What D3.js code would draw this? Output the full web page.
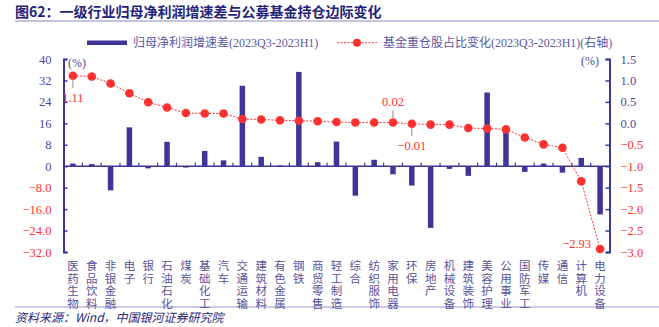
<!DOCTYPE html>
<html>
<head>
<meta charset="utf-8">
<script src="https://cdn.jsdelivr.net/npm/d3@7"></script>
<style>
  body { margin: 0; background: #fff; }
  svg { display: block; }
  text { font-family: "Liberation Serif", "Noto Sans CJK SC", serif; }
  .cjk { font-family: "Noto Sans CJK SC", sans-serif; }
</style>
</head>
<body>
<div id="chart"></div>
<script>
// --------------------------------------
//  Data
// --------------------------------------

const categories = ["医药生物", "食品饮料", "非银金融", "电子", "银行", "石油石化", "煤炭", "基础化工",
  "汽车", "交通运输", "建筑材料", "有色金属", "钢铁", "商贸零售", "轻工制造", "综合", "纺织服饰",
  "家用电器", "环保", "房地产", "机械设备", "建筑装饰", "美容护理", "公用事业", "国防军工", "传媒",
  "通信", "计算机", "电力设备"];

const profitDiff = [1.0, 0.8, -9.0, 14.5, -0.8, 9.1, -0.5, 5.7, 2.2, 30.0, 3.5, 0.3, 35.2, 1.5, 9.2,
  -11.0, 2.4, -3.0, -7.2, -23.0, -1.0, -3.6, 27.5, 13.2, -2.1, 1.0, -2.4, 3.1, -18.0];

const fundChange = [1.11, 1.09, 0.93, 0.70, 0.49, 0.37, 0.24, 0.23, 0.23, 0.10, 0.09, 0.07, 0.06, 0.05,
  0.03, 0.02, 0.02, 0.02, -0.01, -0.03, -0.03, -0.11, -0.12, -0.14, -0.33, -0.49, -0.57, -1.35, -2.93];

const leftTicks = [-32, -24, -16, -8, 0, 8, 16, 24, 32, 40];
const rightTicks = [-3.0, -2.5, -2.0, -1.5, -1.0, -0.5, 0.0, 0.5, 1.0, 1.5];

const callouts = [
  {i: 0, text: "1.11", pos: "below"},
  {i: 17, text: "0.02", pos: "above"},
  {i: 18, text: "\u22120.01", pos: "below"},
  {i: 28, text: "\u22122.93", pos: "left"}
];

const barName = "归母净利润增速差(2023Q3-2023H1)";
const lineName = "基金重仓股占比变化(2023Q3-2023H1)(右轴)";

// --------------------------------------
//  Canvas
// --------------------------------------

const width = 659;
const height = 327;
const plot = {left: 63.5, right: 609.5, top: 59, bottom: 252};

const purple = "#3f3596";
const labelBlue = "#4d4a9e";
const red = "#ff3030";

const svg = d3.select("#chart")
  .append("svg")
    .attr("width", width)
    .attr("height", height);

// --------------------------------------
//  Scales
// --------------------------------------

const x = d3.scaleBand()
    .domain(categories)
    .range([plot.left, plot.right])
    .padding(0);

const y = d3.scaleLinear()
    .domain([-32, 40])
    .range([plot.bottom, plot.top]);

const y2 = d3.scaleLinear()
    .domain([-3, 1.5])
    .range([plot.bottom, plot.top]);

const minus = s => s.replace("-", "\u2212");

// --------------------------------------
//  Title, rules, source
// --------------------------------------

svg.append("text")
    .attr("class", "cjk")
    .attr("x", 15)
    .attr("y", 17)
    .attr("font-size", 14)
    .attr("font-weight", "bold")
    .attr("fill", "#1f237a")
    .text("图62：一级行业归母净利润增速差与公募基金持仓边际变化");

svg.append("line")
    .attr("x1", 15).attr("x2", width)
    .attr("y1", 21).attr("y2", 21)
    .attr("stroke", "#8c87c2").attr("stroke-width", 1);

svg.append("line")
    .attr("x1", 15).attr("x2", width)
    .attr("y1", 307).attr("y2", 307)
    .attr("stroke", "#9c97cc").attr("stroke-width", 1);

svg.append("text")
    .attr("class", "cjk")
    .attr("x", 15)
    .attr("y", 322)
    .attr("font-size", 12)
    .attr("font-style", "italic")
    .attr("fill", "#2a2878")
    .text("资料来源：Wind，中国银河证券研究院");

// --------------------------------------
//  Legend
// --------------------------------------

svg.append("rect")
    .attr("x", 87).attr("y", 40.5)
    .attr("width", 40).attr("height", 4.5)
    .attr("fill", purple);

svg.append("text")
    .attr("x", 133).attr("y", 47)
    .attr("font-size", 12)
    .attr("fill", "#5b57a3")
    .text(barName);

svg.append("line")
    .attr("x1", 337).attr("x2", 377)
    .attr("y1", 42.7).attr("y2", 42.7)
    .attr("stroke", red).attr("stroke-width", 1)
    .attr("stroke-dasharray", "2,1.5");

svg.append("circle")
    .attr("cx", 357).attr("cy", 42.7).attr("r", 4)
    .attr("fill", red);

svg.append("text")
    .attr("x", 383).attr("y", 47)
    .attr("font-size", 12)
    .attr("fill", "#5b57a3")
    .text(lineName);

// --------------------------------------
//  Axes
// --------------------------------------

const leftAxis = svg.append("g")
    .attr("transform", `translate(${plot.left}, 0)`)
    .call(d3.axisLeft(y)
      .tickValues(leftTicks)
      .tickSize(-4)
      .tickPadding(12)
      .tickFormat(d => d < 0 ? minus(d3.format(".1f")(d)) : d3.format("d")(d)));

const rightAxis = svg.append("g")
    .attr("transform", `translate(${plot.right}, 0)`)
    .call(d3.axisRight(y2)
      .tickValues(rightTicks)
      .tickSize(-4)
      .tickPadding(11)
      .tickFormat(d => minus(d3.format(".1f")(d))));

[leftAxis, rightAxis].forEach(g => {
  g.select(".domain").attr("stroke", purple).attr("stroke-width", 2);
  g.selectAll(".tick line").attr("stroke", purple).attr("stroke-width", 1.5);
  g.selectAll(".tick text")
    .attr("font-size", 12.5)
    .attr("font-family", "Liberation Serif");
});

leftAxis.selectAll(".tick text").attr("fill", d => d < 0 ? red : labelBlue);
rightAxis.selectAll(".tick text").attr("fill", d => d < 0 ? red : labelBlue);

svg.append("text")
    .attr("x", 77).attr("y", 67)
    .attr("text-anchor", "middle")
    .attr("font-size", 12)
    .attr("fill", labelBlue)
    .text("(%)");

svg.append("text")
    .attr("x", 590).attr("y", 65)
    .attr("text-anchor", "middle")
    .attr("font-size", 12)
    .attr("fill", labelBlue)
    .text("(%)");

// --------------------------------------
//  Bars
// --------------------------------------

const barW = 5.5;

svg.append("g")
  .selectAll("rect")
  .data(profitDiff)
  .join("rect")
    .attr("x", (d, i) => x(categories[i]) + x.bandwidth() / 2 - barW / 2)
    .attr("width", barW)
    .attr("y", d => y(Math.max(0, d)))
    .attr("height", d => Math.abs(y(d) - y(0)))
    .attr("fill", purple);

// zero axis with small upward ticks between categories
const zeroAxis = svg.append("g");

zeroAxis.append("line")
    .attr("x1", plot.left).attr("x2", plot.right)
    .attr("y1", y(0)).attr("y2", y(0))
    .attr("stroke", purple).attr("stroke-width", 1.5);

zeroAxis.selectAll(".xt")
  .data(categories.slice(1))
  .join("line")
    .attr("class", "xt")
    .attr("x1", d => x(d)).attr("x2", d => x(d))
    .attr("y1", y(0)).attr("y2", y(0) - 3.5)
    .attr("stroke", purple).attr("stroke-width", 1.2);

// vertical category labels, one character per line
const xLabels = svg.append("g")
  .selectAll("text")
  .data(categories)
  .join("text")
    .attr("class", "cjk")
    .attr("font-size", 11.5)
    .attr("fill", "#5a5397")
    .attr("text-anchor", "middle");

xLabels.selectAll("tspan")
  .data(d => Array.from(d).map(ch => ({ch, cat: d})))
  .join("tspan")
    .attr("x", d => x(d.cat) + x.bandwidth() / 2)
    .attr("y", (d, j) => 270 + j * 12.6)
    .text(d => d.ch);

// --------------------------------------
//  Line
// --------------------------------------

const cx = i => x(categories[i]) + x.bandwidth() / 2;

svg.append("path")
    .datum(fundChange)
    .attr("fill", "none")
    .attr("stroke", red)
    .attr("stroke-width", 1)
    .attr("stroke-dasharray", "2,1.5")
    .attr("d", d3.line()
      .x((d, i) => cx(i))
      .y(d => y2(d)));

svg.append("g")
  .selectAll("circle")
  .data(fundChange)
  .join("circle")
    .attr("cx", (d, i) => cx(i))
    .attr("cy", d => y2(d))
    .attr("r", 4.3)
    .attr("fill", red);

// --------------------------------------
//  Callouts
// --------------------------------------

callouts.forEach(c => {
  const px = cx(c.i);
  const py = y2(fundChange[c.i]);
  if (c.pos === "below") {
    svg.append("line")
      .attr("x1", px).attr("x2", px)
      .attr("y1", py + 4).attr("y2", py + 12)
      .attr("stroke", "#b0b0b0").attr("stroke-width", 1.5);
    svg.append("text")
      .attr("x", px).attr("y", py + 26)
      .attr("text-anchor", "middle")
      .attr("font-size", 12.5)
      .attr("fill", red)
      .text(c.text);
  } else if (c.pos === "above") {
    svg.append("line")
      .attr("x1", px).attr("x2", px)
      .attr("y1", py - 4).attr("y2", py - 12)
      .attr("stroke", "#b0b0b0").attr("stroke-width", 1.5);
    svg.append("text")
      .attr("x", px).attr("y", py - 16)
      .attr("text-anchor", "middle")
      .attr("font-size", 12.5)
      .attr("fill", red)
      .text(c.text);
  } else {
    svg.append("text")
      .attr("x", px - 9).attr("y", py - 1)
      .attr("text-anchor", "end")
      .attr("font-size", 12.5)
      .attr("fill", red)
      .text(c.text);
  }
});
</script>
</body>
</html>
